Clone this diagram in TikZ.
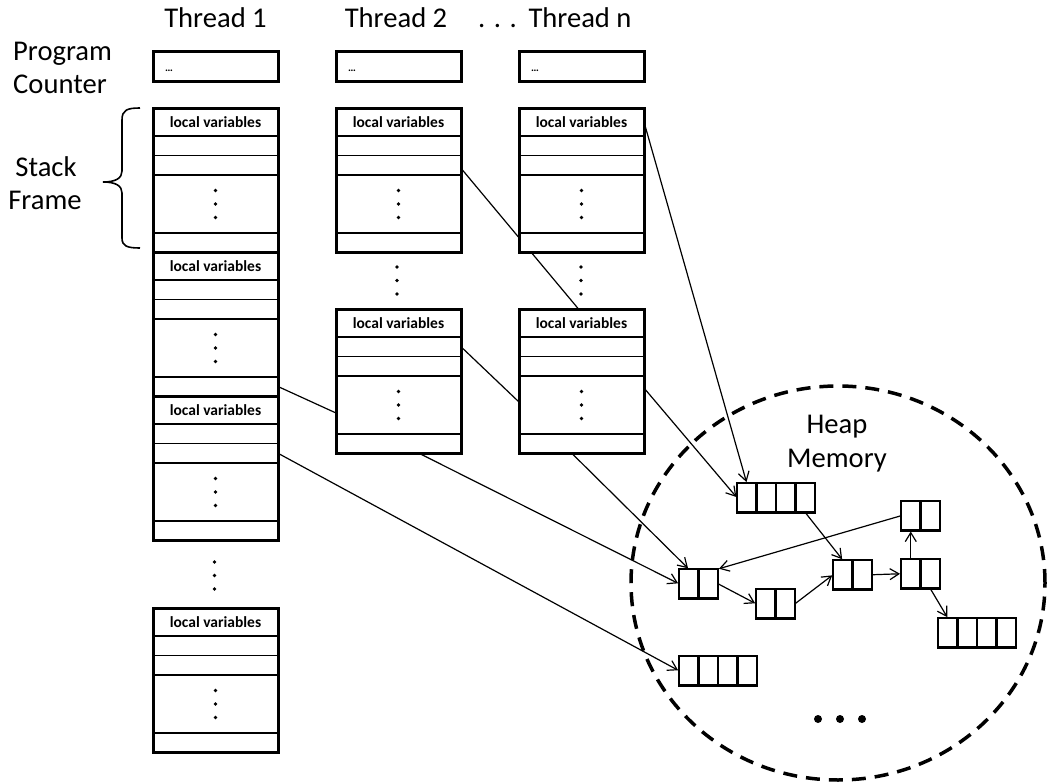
\documentclass[tikz,border=0pt]{standalone}
\usepackage{fontspec}
\setmainfont{Carlito}
\usetikzlibrary{arrows.meta,calc,shapes.geometric}
\pgfdeclarelayer{bg}
\pgfsetlayers{bg,main}

\tikzset{
  big/.style={font=\fontsize{28.6}{33}\selectfont, inner sep=0pt},
  lvtext/.style={font=\fontsize{15.5}{18}\selectfont\bfseries},
  row/.style={draw, line width=1.3pt, fill=white, minimum width=125pt, inner sep=0pt, outer sep=0pt},
  outline/.style={draw, line width=3pt, minimum width=125pt, inner sep=0pt, outer sep=0pt},
  pcbox/.style={draw, line width=3pt, fill=white, minimum width=125pt, minimum height=30pt, inner sep=0pt, outer sep=0pt},
  cell/.style={draw, line width=2.6pt, fill=white, minimum width=19.5pt, minimum height=29.5pt, inner sep=0pt, outer sep=0pt},
  conn/.style={line width=1.2pt},
  arr/.style={conn, shorten >=1pt, -{Straight Barb[length=9pt,width=11pt,line width=1.2pt]}},
  vdot/.style={circle, fill, inner sep=0pt, minimum size=3.8pt},
  hdot/.style={circle, fill, inner sep=0pt, minimum size=8pt},
  heapline/.style={draw, line width=3.5pt, dash pattern=on 14pt off 9pt, ellipse, inner sep=0pt, outer sep=0pt},
}

\newcommand{\stkframe}[3]{% name, center x, top y
  \node[row, minimum height=28pt, lvtext] (#1-lv) at (#2, #3+14) {local variables};
  \node[row, minimum height=19.5pt] (#1-r1) at (#2, #3+37.75) {};
  \node[row, minimum height=19.5pt] (#1-r2) at (#2, #3+57.25) {};
  \node[row, minimum height=58pt] (#1-dt) at (#2, #3+96) {};
  \node[row, minimum height=19pt] (#1-la) at (#2, #3+134.5) {};
  \node[outline, minimum height=144pt] (#1) at (#2, #3+72) {};
  \node[vdot] (#1-d1) at ($(#1-dt.center)+(0,-13.5)$) {};
  \node[vdot] (#1-d2) at (#1-dt.center) {};
  \node[vdot] (#1-d3) at ($(#1-dt.center)+(0,13.5)$) {};
}

\newcommand{\heapobj}[4]{% name, left x, top y, n cells
  \foreach \i in {1,...,#4} {\node[cell] (#1\i) at ({#2+19.5*(\i-0.5)}, #3+14.75) {};}
}

\newcommand{\gapdots}[3]{% name, x, first y
  \node[vdot] (#1a) at (#2, #3) {};
  \node[vdot] (#1b) at (#2, #3+13.5) {};
  \node[vdot] (#1c) at (#2, #3+27) {};
}

\begin{document}
\begin{tikzpicture}[x=1pt, y=-1pt]
\useasboundingbox (0,0) rectangle (1050,784);

% headers
\node[big, anchor=base] (th1) at (215.5, 27.5) {Thread 1};
\node[big, anchor=base] (th2) at (396, 27.5) {Thread 2};
\node[big, anchor=base] (thdots) at (497.5, 27.5) {. . .};
\node[big, anchor=base] (thn) at (580, 27.5) {Thread n};

\node[big, anchor=base west] (pcl1) at (13, 60) {Program};
\node[big, anchor=base west] (pcl2) at (13, 93) {Counter};
\node[big, anchor=base] (sfl1) at (46, 176) {Stack};
\node[big, anchor=base] (sfl2) at (45, 209) {Frame};

% brace
\draw[line width=1.6pt] (140,108) .. controls (127,108) and (122,110) .. (122,120)
  -- (122,171) .. controls (122,178) and (116,182) .. (103,182)
  .. controls (116,182) and (122,186) .. (122,193)
  -- (122,238) .. controls (122,246) and (127,248) .. (140,248);

% program counters
\node[pcbox] (pc1) at (215.5, 67) {};
\node[pcbox] (pc2) at (398.5, 67) {};
\node[pcbox] (pcn) at (581.5, 67) {};
\node[font=\fontsize{11}{12}\selectfont\bfseries, anchor=base west, inner sep=0pt] (pc1t) at (165, 72) {…};
\node[font=\fontsize{11}{12}\selectfont\bfseries, anchor=base west, inner sep=0pt] (pc2t) at (348, 72) {…};
\node[font=\fontsize{11}{12}\selectfont\bfseries, anchor=base west, inner sep=0pt] (pcnt) at (531, 72) {…};

% thread 1 stack
\stkframe{t1f1}{215.5}{108}
\stkframe{t1f2}{215.5}{252}
\stkframe{t1f3}{215.5}{396}
\gapdots{g1}{214.5}{562}
\stkframe{t1f4}{215.5}{608}

% thread 2 stack
\stkframe{t2f1}{398.5}{108}
\gapdots{g2}{397}{267}
\stkframe{t2f2}{398.5}{309}

% thread n stack
\stkframe{tnf1}{581.5}{108}
\gapdots{gn}{581}{267}
\stkframe{tnf2}{581.5}{309}

% heap objects
\heapobj{a}{737}{483}{4}
\heapobj{b}{679}{569}{2}
\heapobj{c}{756}{589}{2}
\heapobj{d}{833}{560}{2}
\heapobj{e}{901}{559}{2}
\heapobj{f}{901}{501}{2}
\heapobj{g}{938}{618}{4}
\heapobj{h}{679}{656}{4}

\node[big, anchor=base] (hm1) at (837, 433) {Heap};
\node[big, anchor=base] (hm2) at (837, 467) {Memory};

\node[hdot] (hd1) at (818, 719) {};
\node[hdot] (hd2) at (840, 719) {};
\node[hdot] (hd3) at (862, 719) {};

\begin{pgfonlayer}{bg}
\node[heapline, minimum width=414pt, minimum height=394pt] (heap) at (838, 583) {};

\draw[conn] (t1f2-la.east) -- ($(t2f2-dt.west)+(0,8)$);
\draw[arr] (t1f3-r2.east) -- (h1.west);
\draw[conn] ($(t2f1-r2.east)+(0,3)$) -- ($(tnf2.north)+(-3,0)$);
\draw[conn] (t2f2-r1.east) -- ($(tnf2-dt.west)+(0,-3)$);
\draw[arr] ($(tnf2-dt.east)+(0,-17)$) -- (a1.west);
\draw[arr] (tnf1-lv.east) -- (a1.north);
\draw[arr] ($(t2f2.south)+(20,0)$) -- (b1.west);
\draw[arr] ($(tnf2.south)+(-10,0)$) -- (b1.north);

\draw[arr] (a4.south) -- (d1.north);
\draw[arr] (b2.east) -- (c1.west);
\draw[arr] (c2.east) -- (d1.west);
\draw[arr] (d2.east) -- (e1.west);
\draw[arr] (e1.north) -- (f1.south);
\draw[arr] (f1.west) -- (b2.north east);
\draw[arr] (e2.south) -- (g1.north);
\end{pgfonlayer}
\end{tikzpicture}
\end{document}
